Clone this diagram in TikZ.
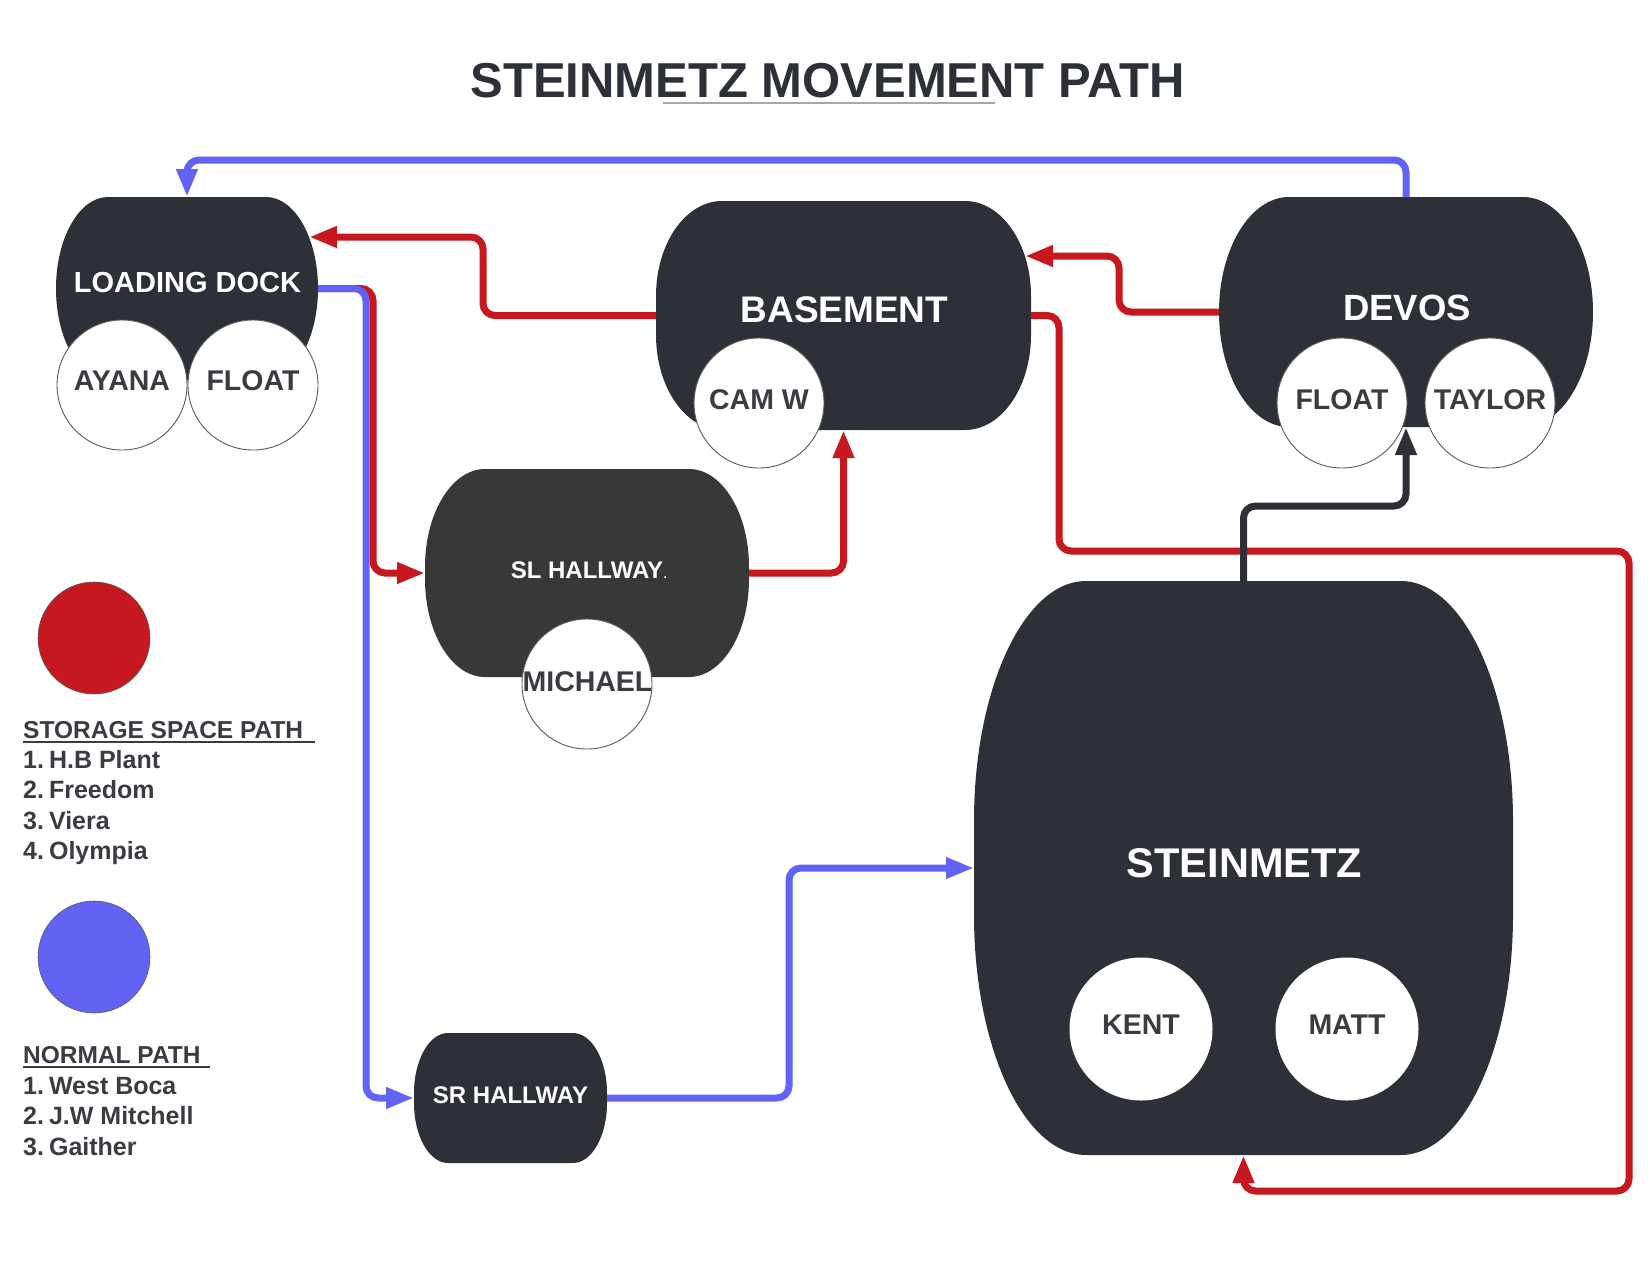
\documentclass[tikz,border=0pt]{standalone}
\usepackage{fontspec}
\setmainfont{Liberation Sans}
\usetikzlibrary{arrows.meta,calc}
\definecolor{shapedark}{HTML}{2E3038}
\definecolor{sldark}{HTML}{383838}
\definecolor{pathred}{HTML}{C6181E}
\definecolor{pathblue}{HTML}{6262F5}
\definecolor{inktext}{HTML}{3A3C42}
\definecolor{ringgray}{HTML}{5A5A5A}
\definecolor{titleline}{HTML}{A8A8A8}
\newcommand\fsz[1]{\fontsize{#1}{#1}\selectfont}
% fill a box node with a shape whose corners are elliptical arcs
\newcommand\pillfill[4]{%
  \fill[#1] let \p1=(#2.south west), \p2=(#2.north east) in
   (\x1+#3,\y2) -- (\x2-#3,\y2)
   arc[start angle=90,end angle=0,x radius=#3,y radius=#4]
   -- (\x2,\y1+#4)
   arc[start angle=0,end angle=-90,x radius=#3,y radius=#4]
   -- (\x1+#3,\y1)
   arc[start angle=-90,end angle=-180,x radius=#3,y radius=#4]
   -- (\x1,\y2-#4)
   arc[start angle=180,end angle=90,x radius=#3,y radius=#4]
   -- cycle;}
\begin{document}
\begin{tikzpicture}[x=1pt,y=-1pt,
  box/.style={rectangle,inner sep=0pt,outer sep=0pt,draw=none},
  ring/.style={circle,inner sep=0pt,outer sep=0pt,fill=white,draw=ringgray,line width=0.9pt,minimum size=130pt},
  bigring/.style={circle,inner sep=0pt,outer sep=0pt,fill=white,minimum size=143pt},
  whitelbl/.style={text=white,inner sep=0pt},
  ringlbl/.style={text=inktext,font=\bfseries\fsz{28.5},inner sep=0pt},
  legtxt/.style={text=inktext,font=\bfseries\fsz{25},inner sep=0pt,anchor=base west},
  legkey/.style={circle,inner sep=0pt,draw=ringgray,line width=0.6pt,minimum size=112pt},
  conn/.style={line width=7pt,rounded corners=12pt,-{Triangle[length=28pt,width=20pt]}},
  redpath/.style={conn,draw=pathred},
  bluepath/.style={conn,draw=pathblue},
  darkpath/.style={conn,draw=shapedark}]

\fill[white] (0,0) rectangle (1650,1275);
\useasboundingbox (0,0) rectangle (1650,1275);

% title
\node[anchor=base,inner sep=0pt,text=shapedark,font=\bfseries\fsz{49}] (title) at (827.5,97) {STEINMETZ MOVEMENT PATH};
\draw[titleline,line width=2pt] (663,103) -- (995,103);

% location shapes
\node[box,minimum width=262pt,minimum height=183pt] (ld) at (187,288.5) {};
\node[box,minimum width=375pt,minimum height=229pt] (bs) at (843.5,315.5) {};
\node[box,minimum width=374pt,minimum height=230pt] (dv) at (1406,312) {};
\node[box,minimum width=324pt,minimum height=208pt] (sl) at (587,573) {};
\node[box,minimum width=193pt,minimum height=130pt] (sr) at (510.5,1098) {};
\node[box,minimum width=539pt,minimum height=574pt] (st) at (1243.5,868) {};
\pillfill{shapedark}{ld}{52pt}{91.5pt}
\pillfill{shapedark}{bs}{66pt}{95pt}
\pillfill{shapedark}{dv}{70pt}{115pt}
\pillfill{sldark}{sl}{60pt}{98pt}
\pillfill{shapedark}{sr}{34pt}{60pt}
\pillfill{shapedark}{st}{112pt}{240pt}

% people circles
\node[ring] (ayana) at (122,385) {};
\node[ring] (ldfloat) at (253,385) {};
\node[ring] (camw) at (759,403) {};
\node[ring] (dvfloat) at (1342,403) {};
\node[ring] (taylor) at (1490,403) {};
\node[ring] (michael) at (587,684) {};
\node[bigring] (kent) at (1141,1029) {};
\node[bigring] (matt) at (1347,1029) {};

% connectors
\draw[redpath] (bs.west) -- (483,315.5) -- (483,237) -- ($(ld.east)+(-9,-51.5)$);
\draw[redpath] (ld.east) -- (373,288.5) -- (373,573) -- (sl.west);
\draw[redpath] (sl.east) -- (843.5,573) -- (bs.south);
\draw[redpath] (dv.west) -- (1119,312) -- (1119,256) -- ($(bs.east)+(-6,-59.5)$);
\draw[redpath] (bs.east) -- (1059,315.5) -- (1059,551) -- (1629,551) -- (1629,1191) -- (1243.5,1191) -- (st.south);
\draw[bluepath] (ld.east) -- (366,288.5) -- (366,1098) -- (sr.west);
\draw[bluepath] (dv.north) -- (1406,160) -- (187,160) -- (ld.north);
\draw[bluepath] (sr.east) -- (789,1098) -- (789,868) -- (st.west);
\draw[darkpath] (st.north) -- (1243.5,506) -- (1406,506) -- (dv.south);

% shape labels
\node[whitelbl,font=\bfseries\fsz{29}] (ldlbl) at (187.5,283) {LOADING DOCK};
\node[whitelbl,font=\bfseries\fsz{37}] (bslbl) at (844.5,310) {BASEMENT};
\node[whitelbl,font=\bfseries\fsz{36.5}] (dvlbl) at (1407,308) {DEVOS};
\node[whitelbl,font=\bfseries\fsz{24}] (sllbl) at (587,570) {SL HALLWAY\rlap{\kern0.5pt\fsz{12}.}};
\node[whitelbl,font=\bfseries\fsz{24}] (srlbl) at (510.5,1095) {SR HALLWAY};
\node[whitelbl,font=\bfseries\fsz{41.5}] (stlbl) at (1244.5,863) {STEINMETZ};

% people labels
\node[ringlbl] (ayanalbl) at (122,380.5) {AYANA};
\node[ringlbl] (ldfloatlbl) at (253,380.5) {FLOAT};
\node[ringlbl] (camwlbl) at (759,399.5) {CAM W};
\node[ringlbl] (dvfloatlbl) at (1342,400) {FLOAT};
\node[ringlbl] (taylorlbl) at (1490,400) {TAYLOR};
\node[ringlbl] (michaellbl) at (587.5,682) {MICHAEL};
\node[ringlbl] (kentlbl) at (1141,1025) {KENT};
\node[ringlbl] (mattlbl) at (1347,1025) {MATT};

% legend
\node[legkey,fill=pathred] (redkey) at (94,638) {};
\node[legtxt,font=\bfseries\fsz{24.5}] (storagehead) at (23,738) {STORAGE SPACE PATH};
\draw[inktext,line width=2pt] (23,741.5) -- (315,741.5);
\node[legtxt] (s1) at (23,768) {1.\hspace{5pt}H.B Plant};
\node[legtxt] (s2) at (23,798) {2.\hspace{5pt}Freedom};
\node[legtxt] (s3) at (23,829) {3.\hspace{5pt}Viera};
\node[legtxt] (s4) at (23,859) {4.\hspace{5pt}Olympia};

\node[legkey,fill=pathblue] (bluekey) at (94,957) {};
\node[legtxt,font=\bfseries\fsz{24.5}] (normalhead) at (23,1063) {NORMAL PATH};
\draw[inktext,line width=2pt] (23,1066.5) -- (210,1066.5);
\node[legtxt] (n1) at (23,1094) {1.\hspace{5pt}West Boca};
\node[legtxt] (n2) at (23,1124) {2.\hspace{5pt}J.W Mitchell};
\node[legtxt] (n3) at (23,1155) {3.\hspace{5pt}Gaither};
\end{tikzpicture}
\end{document}
